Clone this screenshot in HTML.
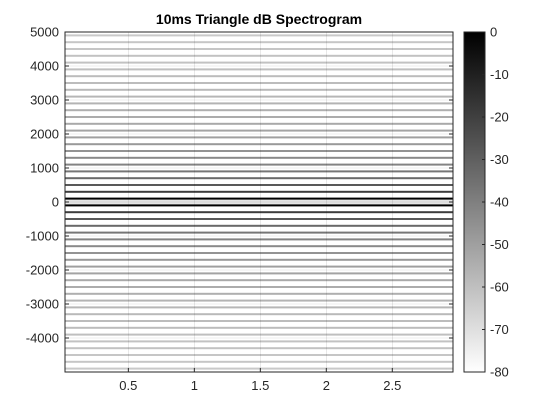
<!DOCTYPE html>
<html><head><meta charset="utf-8"><style>
body{margin:0;background:#fff;}
svg{display:block;font-family:"Liberation Sans",sans-serif;}
</style></head><body>
<svg id="c" width="560" height="420"></svg>
<script>
const harmonicFreqs=[100,300,500,700,900,1100,1300,1500,1700,1900,2100,2300,2500,2700,2900,3100,3300,3500,3700,3900,4100,4300,4500,4700,4900];
const harmonicDb=[0,-19,-28,-33,-37,-41,-43,-46,-48,-50,-51,-53,-54,-55,-56,-57,-58,-59,-59,-60,-61,-61,-62,-62,-63];
const bandDb=-72;
const xTicks=[0.5,1,1.5,2,2.5];
const yTicks=[-4000,-3000,-2000,-1000,0,1000,2000,3000,4000,5000];
const cTicks=[0,-10,-20,-30,-40,-50,-60,-70,-80];
const NS='http://www.w3.org/2000/svg';
const svg=document.getElementById('c');
const L=65,R=453,T=32,B=372,xmin=0.02,xmax=2.96,ymin=-5000,ymax=5000;
const xs=v=>L+(v-xmin)/(xmax-xmin)*(R-L);
const ys=v=>B-(v-ymin)/(ymax-ymin)*(B-T);
const CL=464,CR=485;
const cs=v=>T+(0-v)/80*(B-T);
const gray=db=>{const g=Math.round(Math.min(1,Math.max(0,-db/80))*255);return `rgb(${g},${g},${g})`;};
function el(t,a,p){const e=document.createElementNS(NS,t);for(const k in a)e.setAttribute(k,a[k]);(p||svg).appendChild(e);return e;}
let r=el('rect',{x:L,y:T,width:R-L,height:B-T,fill:'#fff'});


let band=el('rect',{x:L,y:ys(100),width:R-L,height:ys(-100)-ys(100),fill:gray(bandDb)});


harmonicFreqs.forEach((f,i)=>{[f,-f].forEach(fv=>{
 const ln=el('rect',{x:L,y:ys(fv)-1,width:R-L,height:2,fill:gray(harmonicDb[i])});
 
 
});});
xTicks.forEach(v=>{
 const g=el('line',{x1:xs(v),x2:xs(v),y1:T,y2:B,stroke:'#000','stroke-opacity':0.15,'stroke-width':0.6});
 
 
 el('line',{x1:xs(v),x2:xs(v),y1:B,y2:B-4,stroke:'#262626'});
 const t=el('text',{x:xs(v),y:B+18,'font-size':13,'text-anchor':'middle',fill:'#262626'});t.textContent=v;
 
 
});
yTicks.forEach(v=>{
 if(v!==5000){const g=el('line',{x1:L,x2:R,y1:ys(v),y2:ys(v),stroke:'#000','stroke-opacity':0.15,'stroke-width':0.6});
 
 }
 el('line',{x1:L,x2:L+4,y1:ys(v),y2:ys(v),stroke:'#262626'});
 el('line',{x1:R,x2:R-4,y1:ys(v),y2:ys(v),stroke:'#262626'});
 const t=el('text',{x:L-6,y:ys(v)+4.5,'font-size':13,'text-anchor':'end',fill:'#262626'});t.textContent=v;
 
 
});
let ax=el('rect',{x:L,y:T,width:R-L,height:B-T,fill:'none',stroke:'#262626','stroke-width':1});


const defs=el('defs',{});
const lg=el('linearGradient',{id:'cg',x1:0,y1:0,x2:0,y2:1},defs);
el('stop',{offset:0,'stop-color':'#000'},lg);el('stop',{offset:1,'stop-color':'#fff'},lg);
let cb=el('rect',{x:CL,y:T,width:CR-CL,height:B-T,fill:'url(#cg)',stroke:'#262626','stroke-width':1});


cTicks.forEach(v=>{
 el('line',{x1:CR,x2:CR-3,y1:cs(v),y2:cs(v),stroke:'#262626'});
 const t=el('text',{x:CR+5,y:cs(v)+4.5,'font-size':13,fill:'#262626'});t.textContent=v;
 
 
});
const ti=el('text',{x:(L+R)/2,y:24,'font-size':14,'font-weight':'bold','text-anchor':'middle',fill:'#000'});
ti.textContent='10ms Triangle dB Spectrogram';


</script>
</body></html>
